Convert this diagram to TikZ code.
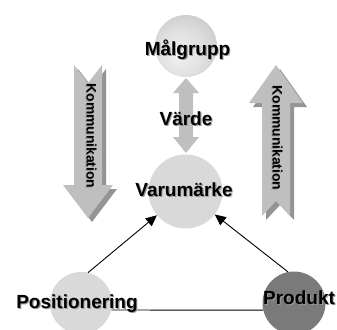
\documentclass[tikz,border=0pt]{standalone}
\usepackage{fontspec}
\setmainfont{Liberation Sans}
\usetikzlibrary{arrows.meta}
% soft grey sphere for the target-group disc
\pgfdeclareradialshading{sphere}{\pgfpoint{-6bp}{-8bp}}{color(0bp)=(black!5); color(18bp)=(black!12); color(50bp)=(black!30); color(75bp)=(black!32)}
% bold label with a faint drop shadow
\newcommand\shtext[1]{\rlap{\kern1.1pt\raisebox{-1.1pt}{\textcolor{black!40}{#1}}}#1}

\begin{document}
\begin{tikzpicture}[x=1pt,y=-1pt,
  disc/.style={circle, minimum size=#1, inner sep=0pt, draw=none},
  lbl/.style={font=\bfseries\fontsize{19}{19}\selectfont, inner sep=0pt, anchor=base},
  vlbl/.style={font=\bfseries\fontsize{13.8}{13.8}\selectfont, inner sep=0pt, rotate=-90},
  face/.style={fill=black!25},
  side/.style={fill=black!42},
  conn/.style={draw=black, line width=0.9pt, -{Triangle[length=11pt,width=10pt]}},
  edge/.style={draw=black, line width=0.9pt}
]
\useasboundingbox (0,0) rectangle (337,329);

% discs
\node[disc=62, shading=sphere] (malg) at (186,46) {};
\node[disc=74, fill=black!15] (varu) at (185.5,191.5) {};
\node[disc=62, fill=black!15] (pos) at (81,303) {};
\node[disc=63, fill=black!52] (prod) at (294,303) {};

% two-headed value arrow
\fill[face] (186,78) -- (199,93) -- (193,93) -- (193,137) -- (199,137)
  -- (186,153) -- (173,137) -- (179,137) -- (179,93) -- (173,93) -- cycle;

% downward communication arrow with its extruded side
\begin{scope}[shift={(4,4)}]
  \fill[side] (74,65) -- (88,83) -- (102,65) -- (102,185) -- (113,185)
    -- (88,218) -- (63,185) -- (74,185) -- cycle;
\end{scope}
\fill[face] (74,65) -- (88,83) -- (102,65) -- (102,185) -- (113,185)
  -- (88,218) -- (63,185) -- (74,185) -- cycle;

% upward communication arrow with its extruded side
\begin{scope}[shift={(4,4)}]
  \fill[side] (276,65) -- (303,103) -- (290,103) -- (290,216) -- (276,201)
    -- (262,216) -- (262,103) -- (249,103) -- cycle;
\end{scope}
\fill[face] (276,65) -- (303,103) -- (290,103) -- (290,216) -- (276,201)
  -- (262,216) -- (262,103) -- (249,103) -- cycle;

% connectors
\draw[conn] (pos.77) -- (varu);
\draw[conn] (prod.101) -- (varu);
\draw[edge] (pos.-13) -- (prod.193);

% labels
\node[lbl] (malgt) at (187.5,55.5) {\shtext{Målgrupp}};
\node[lbl] (varde) at (186,125.5) {\shtext{Värde}};
\node[lbl] (varut) at (184,196) {\shtext{Varumärke}};
\node[lbl] (post) at (77,308) {\shtext{Positionering}};
\node[lbl] (prodt) at (299,304) {\shtext{Produkt}};
\node[vlbl] (kom1) at (91,136) {\shtext{Kommunikation}};
\node[vlbl] (kom2) at (277,138) {\shtext{Kommunikation}};
\end{tikzpicture}
\end{document}
